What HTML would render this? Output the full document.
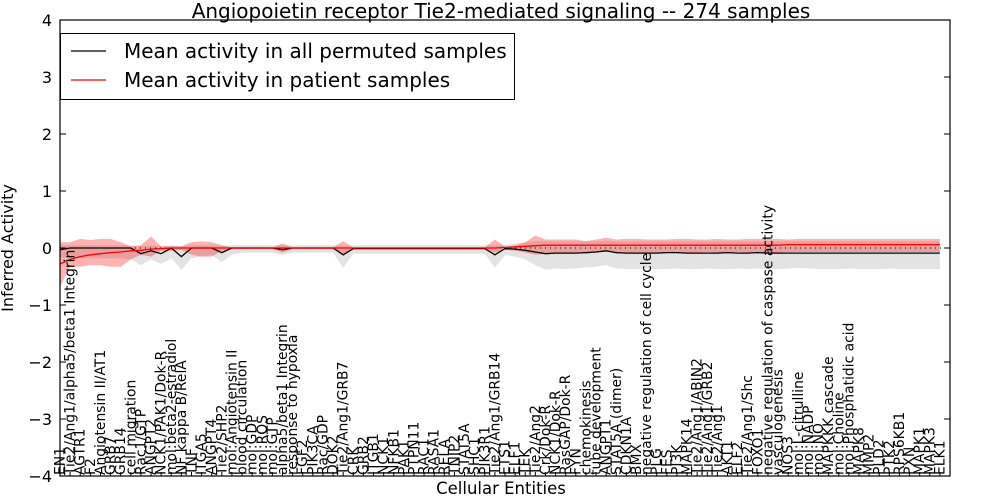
<!DOCTYPE html>
<html><head><meta charset="utf-8">
<style>
html,body{margin:0;padding:0;background:#fff;}
svg{display:block;font-family:"DejaVu Sans","Liberation Sans",sans-serif;}
</style></head>
<body>
<svg id="chart" width="1000" height="500" xmlns="http://www.w3.org/2000/svg">
  <text x="501" y="18" font-size="20" text-anchor="middle">Angiopoietin receptor Tie2-mediated signaling -- 274 samples</text>
  <text x="501" y="494" font-size="16.5" text-anchor="middle">Cellular Entities</text>
  <text transform="translate(13,248) rotate(-90)" font-size="16" text-anchor="middle">Inferred Activity</text>
  <g id="plot"></g>
</svg>
<script>
const categories = ["EN1","Tie2/Ang1/alpha5/beta1 Integrin","AGTR1","F2","Angiotensin II/AT1","GRB7","GRB14","cell migration","Rac1/GTP","ANGPT2","NCK1/PAK1/Dok-R","mol:beta2-estradiol","NF kappa B/RelA","TNF","ITGA5","ANGPT4","Tie2/SHP2","mol:Angiotensin II","blood circulation","mol:GDP","mol:ROS","mol:GTP","alpha5/beta1 Integrin","response to hypoxia","FGF2","PIK3CA","Rac/GDP","DOK2","Tie2/Ang1/GRB7","CRK","GRB2","ITGB1","NCK1","NFKB1","PAK1","PTPN11","RAC1","RASA1","RELA","TNIP2","STAT5A","SHC1","PIK3R1","Tie2/Ang1/GRB14","ETS1","ELF1","TEK","Tie2/Ang2","Crk/Dok-R","NCK1/Dok-R","RasGAP/Dok-R","FYN","chemokinesis","tube development","ANGPT1","STAT5A (dimer)","CDKN1A","BMX","negative regulation of cell cycle","PLG","FES","PI3K","MAPK14","Tie2/Ang1/ABIN2","Tie2/Ang1/GRB2","Tie2/Ang1","AKT1","ELF2","Tie2/Ang1/Shc","FOXO1","negative regulation of caspase activity","vasculogenesis","NOS3","mol:L-citrulline","mol:NADP","mol:NO","MAPKKK cascade","mol:Choline","mol:Phosphatidic acid","MAPK8","MMP2","PLD2","PTK2","RPS6KB1","PXN","MAPK1","MAPK3","ELK1"];
const permMean = [-0.03,0,0,0,0,0,0,0,-0.1,-0.05,-0.1,0,-0.15,0,0,0,-0.08,0,0,0,0,0,-0.03,0,0,0,0,0,-0.12,-0.01,-0.01,-0.01,-0.01,-0.01,-0.01,-0.01,-0.01,-0.01,-0.01,-0.01,-0.01,-0.01,-0.01,-0.12,-0.01,-0.02,-0.04,-0.07,-0.1,-0.09,-0.09,-0.09,-0.08,-0.07,-0.05,-0.08,-0.09,-0.09,-0.09,-0.09,-0.08,-0.08,-0.09,-0.09,-0.09,-0.09,-0.08,-0.09,-0.09,-0.08,-0.09,-0.09,-0.09,-0.09,-0.09,-0.09,-0.09,-0.09,-0.09,-0.09,-0.09,-0.09,-0.09,-0.09,-0.09,-0.09,-0.09,-0.09];
const permLo = [-0.15,-0.18,-0.18,-0.18,-0.18,-0.18,-0.18,-0.2,-0.3,-0.2,-0.28,-0.18,-0.38,-0.18,-0.15,-0.12,-0.25,-0.12,-0.08,-0.08,-0.08,-0.08,-0.12,-0.08,-0.08,-0.08,-0.08,-0.08,-0.35,-0.1,-0.1,-0.1,-0.1,-0.1,-0.1,-0.1,-0.1,-0.1,-0.1,-0.1,-0.1,-0.1,-0.1,-0.35,-0.12,-0.15,-0.2,-0.3,-0.38,-0.36,-0.37,-0.36,-0.34,-0.33,-0.3,-0.36,-0.37,-0.37,-0.36,-0.37,-0.37,-0.36,-0.37,-0.37,-0.36,-0.37,-0.37,-0.36,-0.37,-0.36,-0.37,-0.37,-0.36,-0.35,-0.36,-0.37,-0.37,-0.37,-0.36,-0.37,-0.37,-0.37,-0.36,-0.37,-0.37,-0.37,-0.37,-0.37];
const permHi = [0.05,0.05,0.05,0.05,0.05,0.05,0.05,0.05,0.03,0.05,0.03,0.05,0.03,0.05,0.05,0.05,0.04,0.05,0.05,0.05,0.05,0.05,0.05,0.05,0.05,0.05,0.05,0.05,0.04,0.05,0.05,0.05,0.05,0.05,0.05,0.05,0.05,0.05,0.05,0.05,0.05,0.05,0.05,0.05,0.06,0.08,0.1,0.12,0.12,0.12,0.12,0.12,0.12,0.12,0.13,0.12,0.12,0.12,0.12,0.12,0.12,0.12,0.12,0.12,0.12,0.12,0.12,0.12,0.12,0.12,0.12,0.12,0.12,0.12,0.12,0.12,0.12,0.12,0.12,0.12,0.12,0.12,0.12,0.12,0.12,0.12,0.12,0.12];
const patMean = [-0.28,-0.2,-0.15,-0.12,-0.1,-0.08,-0.07,-0.05,-0.04,-0.02,-0.01,0,0,0,0,0,0,0,0,0,0,0,0,0,0,0,0,0,0,0,0,0,0,0,0,0,0,0,0,0,0,0,0,0,0.01,0.02,0.03,0.04,0.05,0.05,0.05,0.05,0.05,0.05,0.05,0.05,0.05,0.05,0.05,0.05,0.05,0.05,0.05,0.05,0.05,0.05,0.05,0.05,0.05,0.05,0.05,0.05,0.06,0.06,0.06,0.06,0.06,0.06,0.06,0.06,0.06,0.06,0.06,0.06,0.06,0.06,0.06,0.06];
const patLo = [-0.68,-0.33,-0.33,-0.3,-0.3,-0.33,-0.33,-0.2,-0.12,-0.15,-0.05,-0.05,-0.03,-0.12,-0.15,-0.15,-0.05,-0.02,-0.02,-0.02,-0.02,-0.02,-0.08,-0.02,-0.02,-0.02,-0.02,-0.02,-0.1,-0.02,-0.02,-0.02,-0.02,-0.02,-0.02,-0.02,-0.02,-0.02,-0.02,-0.02,-0.02,-0.02,-0.02,-0.08,-0.03,-0.05,-0.08,-0.12,-0.1,-0.08,-0.08,-0.08,-0.1,-0.08,-0.05,-0.1,-0.08,-0.08,-0.08,-0.08,-0.08,-0.08,-0.08,-0.08,-0.07,-0.08,-0.08,-0.07,-0.08,-0.07,-0.08,-0.08,-0.07,-0.07,-0.07,-0.07,-0.07,-0.07,-0.07,-0.07,-0.07,-0.07,-0.07,-0.07,-0.07,-0.07,-0.07,-0.07];
const patHi = [0.1,0.1,0.16,0.14,0.16,0.16,0.1,0.03,0.05,0.2,0.03,0.03,0.03,0.1,0.12,0.1,0.05,0.01,0.01,0.01,0.01,0.01,0.08,0.01,0.01,0.01,0.01,0.01,0.12,0.01,0.01,0.01,0.01,0.01,0.01,0.01,0.01,0.01,0.01,0.01,0.01,0.01,0.01,0.15,0.02,0.05,0.1,0.22,0.15,0.15,0.15,0.15,0.12,0.15,0.18,0.15,0.16,0.16,0.15,0.15,0.15,0.16,0.16,0.15,0.15,0.16,0.15,0.15,0.16,0.16,0.16,0.16,0.15,0.16,0.16,0.16,0.16,0.16,0.16,0.16,0.16,0.16,0.16,0.16,0.16,0.16,0.16,0.16];
const yTicks = [4,3,2,1,0,-1,-2,-3,-4];
const legendLabels = ["Mean activity in all permuted samples","Mean activity in patient samples"];

const NS = "http://www.w3.org/2000/svg";
const L = 60, R = 950, T = 20, B = 476;
const xScale = i => L + (i) * (R - L) / 88;
const yScale = v => T + (4 - v) * (B - T) / 8;
const g = document.getElementById("plot");
function mk(tag, attrs) { const e = document.createElementNS(NS, tag); for (const k in attrs) e.setAttribute(k, attrs[k]); g.appendChild(e); return e; }

function band(lo, hi, fill, op, name) {
  let d = "M" + lo.map((v,i)=>xScale(i).toFixed(1)+","+yScale(v).toFixed(1)).join("L");
  for (let i = hi.length-1; i >= 0; i--) d += "L" + xScale(i).toFixed(1) + "," + yScale(hi[i]).toFixed(1);
  const p = mk("path", {d: d + "Z", fill: fill, "fill-opacity": op, stroke: "none"});
  
  
}
function line(vals, color, name) {
  const p = mk("path", {d: "M" + vals.map((v,i)=>xScale(i).toFixed(1)+","+yScale(v).toFixed(1)).join("L"), fill: "none", stroke: color, "stroke-width": 1.3});
  
  
}
band(permLo, permHi, "#b0b0b0", 0.35, "permuted-band");
band(patLo, patHi, "#ff0000", 0.3, "patient-band");
const zl = mk("line", {x1: L, x2: R, y1: yScale(0), y2: yScale(0), stroke: "#000", "stroke-width": 1, "stroke-dasharray": "1,4"});


line(permMean, "#000", "permuted-mean-line");
line(patMean, "#ff0000", "patient-mean-line");

categories.forEach((c, i) => {
  const t = mk("text", {transform: "translate(" + (xScale(i) + 4.5).toFixed(1) + "," + (B - 1) + ") rotate(-90)", "font-size": 13.9});
  t.textContent = c;
  
  
  const tk = mk("line", {x1: xScale(i), x2: xScale(i), y1: B, y2: B - 4, stroke: "#000"});
  
  
});

yTicks.forEach(v => {
  const y = yScale(v);
  const a = mk("line", {x1: L, x2: L + 6, y1: y, y2: y, stroke: "#000"});
  
  
  const b = mk("line", {x1: R, x2: R - 6, y1: y, y2: y, stroke: "#000"});
  
  
  const t = mk("text", {x: L - 8, y: y + 6, "font-size": 16, "text-anchor": "end"});
  t.textContent = (v < 0 ? "\u2212" + (-v) : String(v));
  
  
});

const frame = mk("rect", {x: L, y: T, width: R - L, height: B - T, fill: "none", stroke: "#000", "stroke-width": 1.2});



const lg = mk("rect", {x: 60.5, y: 33.5, width: 454, height: 66, fill: "#fff", stroke: "#000", "stroke-width": 1});


const colors = ["#000", "#ff0000"];
legendLabels.forEach((s, k) => {
  const y = 51 + k * 29;
  const ln = mk("line", {x1: 71, x2: 106, y1: y, y2: y, stroke: colors[k], "stroke-width": 1.3});
  
  
  const t = mk("text", {x: 124, y: y + 7, "font-size": 20});
  t.textContent = s;
  
  
});
</script>
</body></html>
